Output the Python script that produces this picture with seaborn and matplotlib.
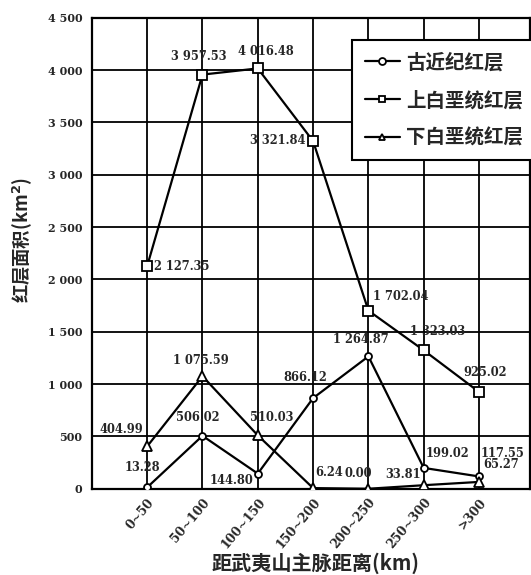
import pandas as pd
import seaborn as sns
import matplotlib.pyplot as plt

# distance classes from the Wuyi main ridge
categories = ["0~50", "50~100", "100~150", "150~200", "200~250", "250~300", ">300"]
# red-bed area (km2) per class
paleogene = [13.28, 506.02, 144.80, 866.12, 1264.87, 199.02, 117.55]
upper_cret = [2127.35, 3957.53, 4016.48, 3321.84, 1702.04, 1323.03, 925.02]
lower_cret = [404.99, 1075.59, 510.03, 6.24, 0.00, 33.81, 65.27]
series_names = ["古近纪红层", "上白垩统红层", "下白垩统红层"]
y_ticks = [0, 500, 1000, 1500, 2000, 2500, 3000, 3500, 4000, 4500]

# label offsets in pixels (dx, dy, ha) for each point
paleogene_off = [(-5, 20, "center"), (-5, 18, "center"), (-4, -7, "right"), (-8, 21, "center"),
                 (-8, 17, "center"), (2, 14, "left"), (2, 23, "left")]
upper_off = [(7, 0, "left"), (-4, 18, "center"), (8, 17, "center"), (-8, 1, "right"),
             (5, 14, "left"), (14, 19, "center"), (6, 19, "center")]
lower_off = [(-4, 17, "right"), (-2, 16, "center"), (14, 18, "center"), (2, 16, "left"),
             (-10, 15, "center"), (-3, 11, "right"), (4, 17, "left")]

df = pd.DataFrame({"distance": categories * 3,
                   "area": paleogene + upper_cret + lower_cret,
                   "layer": [n for n in series_names for _ in categories]})

sns.set_style("white")
plt.rcParams['font.family'] = ['DejaVu Serif', 'Noto Sans CJK SC', 'DejaVu Sans']
plt.rcParams['font.weight'] = 'bold'
cjk = ['Noto Sans CJK SC', 'DejaVu Serif']

fig = plt.figure(figsize=(5.31, 5.75), dpi=100)
ax = fig.add_axes([0.173, 0.150, 0.826, 0.819])

markers = {"古近纪红层": "o", "上白垩统红层": "s", "下白垩统红层": "^"}
msizes = {"古近纪红层": 5, "上白垩统红层": 7, "下白垩统红层": 6.5}
for name in series_names:
    sns.lineplot(data=df[df["layer"] == name], x="distance", y="area", ax=ax,
                 color="black", linewidth=1.6, marker=markers[name], markersize=msizes[name],
                 markerfacecolor="white", markeredgecolor="black", markeredgewidth=1.3,
                 label=name, zorder=3)

def fmt(v):
    return f"{v:,.2f}".replace(",", " ")

for vals, offs in [(upper_cret, upper_off), (paleogene, paleogene_off), (lower_cret, lower_off)]:
    for i, (v, (dx, dy, ha)) in enumerate(zip(vals, offs)):
        ax.annotate(fmt(v), (i, v), xytext=(dx, dy), textcoords="offset pixels",
                    ha=ha, va="center", fontsize=8.3, fontweight="bold", zorder=4)

ax.set_xlim(-1, 6.93)
ax.set_ylim(0, 4500)
ax.set_yticks(y_ticks)
ax.set_yticklabels([f"{t:,}".replace(",", " ") for t in y_ticks], fontsize=8, fontweight="bold")
ax.set_xticks(range(len(categories)))
ax.set_xticklabels(categories, rotation=50, ha="right", rotation_mode="anchor",
                   fontsize=8.8, fontweight="bold")
ax.tick_params(axis="y", length=0, pad=7)
ax.tick_params(axis="x", length=0, pad=5)
ax.grid(True, color="black", linewidth=1.3)
for s in ax.spines.values():
    s.set_color("black")
    s.set_linewidth(1.6)

ax.set_xlabel("距武夷山主脉距离(km)", fontsize=14.5, fontweight="bold", family=cjk, va="center")
ax.xaxis.set_label_coords(0.511, -0.159)
ax.set_ylabel("红层面积(km$^2$)", fontsize=13.2, fontweight="bold", family=cjk, va="center")
ax.yaxis.set_label_coords(-0.160, 0.529)

leg = ax.legend(loc="upper left", bbox_to_anchor=(352 / 531, 1 - 40 / 575),
                bbox_transform=fig.transFigure, frameon=True, fancybox=False,
                handlelength=1.8, borderpad=0.65, labelspacing=0.95, handletextpad=0.35,
                borderaxespad=0, prop={"family": cjk, "size": 14, "weight": "bold"})
leg.get_frame().set_edgecolor("black")
leg.get_frame().set_linewidth(1.5)
leg.get_frame().set_alpha(1)
leg.set_zorder(5)
for h in leg.legend_handles:
    h.set_markersize(5)

plt.savefig("out.png", dpi=100)
